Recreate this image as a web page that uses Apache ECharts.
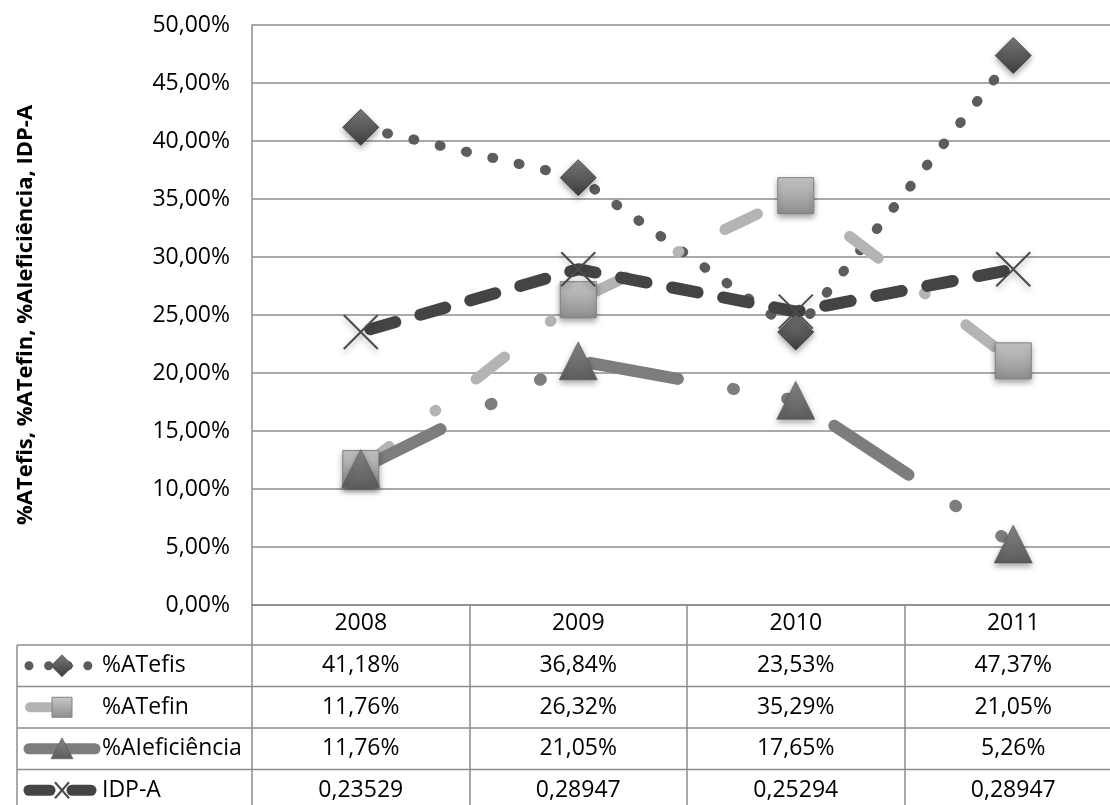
<!DOCTYPE html>
<html>
<head>
<meta charset="utf-8">
<script src="https://cdn.jsdelivr.net/npm/echarts@6/dist/echarts.min.js"></script>
<style>
  html, body { margin: 0; padding: 0; background: #fff; overflow: hidden; width: 1110px; height: 805px; }
  /* the plot and its table run a little past the right edge of the page */
  #chart { width: 1122px; height: 805px; }
</style>
</head>
<body>
<div id="chart"></div>
<script>
// ---- data ----
const years = ['2008', '2009', '2010', '2011'];
const atefis = [0.4118, 0.3684, 0.2353, 0.4737];
const atefin = [0.1176, 0.2632, 0.3529, 0.2105];
const aieficiencia = [0.1176, 0.2105, 0.1765, 0.0526];
const idpA = [0.23529, 0.28947, 0.25294, 0.28947];
const seriesNames = ['%ATefis', '%ATefin', '%AIeficiência', 'IDP-A'];
const axisTitle = '%ATefis, %ATefin, %AIeficiência, IDP-A';
const yMin = 0, yMax = 0.5, yStep = 0.05;

// ---- formatting ----
const FONT = "'Open Sans', sans-serif";
const GRID_COLOR = '#8c8c8c';
const pct = v => (v * 100).toFixed(2).replace('.', ',') + '%';
const dec = v => v.toFixed(5).replace('.', ',');

const grad = (top, bottom) => ({
  type: 'linear', x: 0, y: 0, x2: 0, y2: 1,
  colorStops: [{ offset: 0, color: top }, { offset: 1, color: bottom }]
});
const shadow = { shadowBlur: 6, shadowColor: 'rgba(0,0,0,0.35)', shadowOffsetY: 3 };
const X_PATH = 'path://M0,0L10,10M10,0L0,10';

const seriesDefs = [
  { name: seriesNames[0], data: atefis, fmt: pct,
    symbol: 'diamond', symbolSize: 36,
    line: { color: '#5c5c5c', width: 10, type: [1, 26], cap: 'round' },
    item: Object.assign({ color: grad('#7a7a7a', '#3c3c3c'), borderColor: '#3a3a3a', borderWidth: 0.8 }, shadow) },
  { name: seriesNames[1], data: atefin, fmt: pct,
    symbol: 'rect', symbolSize: 36,
    line: { color: '#b4b4b4', width: 11, type: [36, 58, 1, 51], cap: 'round' },
    item: Object.assign({ color: grad('#c8c8c8', '#8e8e8e'), borderColor: '#808080', borderWidth: 1 }, shadow) },
  { name: seriesNames[2], data: aieficiencia, fmt: pct,
    symbol: 'triangle', symbolSize: 38,
    line: { color: '#7d7d7d', width: 12, type: [89, 56, 1, 54, 1, 54], cap: 'round' },
    item: Object.assign({ color: grad('#858585', '#5c5c5c'), borderColor: '#555', borderWidth: 0.6 }, shadow) },
  { name: seriesNames[3], data: idpA, fmt: dec,
    symbol: X_PATH, symbolSize: 34,
    line: { color: '#444444', width: 12, type: [26, 26], dashOffset: 42, cap: 'round' },
    item: Object.assign({ color: 'rgba(0,0,0,0)', borderColor: '#4a4a4a', borderWidth: 2 }, shadow) }
];

const chart = echarts.init(document.getElementById('chart'), null, { renderer: 'canvas' });

chart.setOption({
  animation: false,
  backgroundColor: '#fff',
  textStyle: { fontFamily: FONT },
  grid: { left: 252, top: 25, right: 0, height: 580, outerBoundsMode: 'none' },
  xAxis: {
    type: 'category',
    data: years,
    boundaryGap: true,
    axisLine: { show: true, lineStyle: { color: GRID_COLOR, width: 1.5 } },
    axisTick: { show: true, interval: 0, length: 206, lineStyle: { color: GRID_COLOR, width: 1.5 } },
    axisLabel: { color: '#000', fontSize: 23, fontFamily: FONT, margin: 7, interval: 0 },
    splitLine: { show: false }
  },
  yAxis: {
    type: 'value',
    min: yMin, max: yMax, interval: yStep,
    name: axisTitle,
    nameLocation: 'middle',
    nameRotate: 90,
    nameGap: 215,
    nameTextStyle: { color: '#000', fontSize: 22, fontWeight: 'bold', fontFamily: FONT },
    axisLine: { show: true, lineStyle: { color: GRID_COLOR, width: 1.5 } },
    axisTick: { show: false },
    axisLabel: { color: '#000', fontSize: 23, fontFamily: FONT, margin: 22, formatter: pct },
    splitLine: { show: true, lineStyle: { color: GRID_COLOR, width: 1.5 } }
  },
  series: seriesDefs.map(s => ({
    type: 'line',
    name: s.name,
    data: s.data,
    symbol: s.symbol,
    symbolSize: s.symbolSize,
    showSymbol: true,
    clip: false,
    lineStyle: s.line,
    itemStyle: s.item,
    emphasis: { disabled: true },
    z: 2
  }))
});

// ---- data table under the plot ----
const colX = years.map(y => chart.convertToPixel({ xAxisIndex: 0 }, y));
const bandW = colX.length > 1 ? colX[1] - colX[0] : 200;
const tableTop = chart.convertToPixel({ yAxisIndex: 0 }, yMin);
const headerH = 40, rowH = 41.5;
const tableLeft = 17, tableRight = colX[colX.length - 1] + bandW / 2;
const graphics = [];

const rowTops = seriesDefs.map((s, i) => tableTop + headerH + i * rowH);
const tableBottom = tableTop + headerH + seriesDefs.length * rowH;

// horizontal rules
rowTops.concat([tableBottom]).forEach(y => {
  graphics.push({ type: 'line', shape: { x1: tableLeft, y1: y, x2: tableRight, y2: y },
    style: { stroke: GRID_COLOR, lineWidth: 1.5 }, silent: true });
});
// left border of the key column
graphics.push({ type: 'line', shape: { x1: tableLeft, y1: rowTops[0], x2: tableLeft, y2: tableBottom },
  style: { stroke: GRID_COLOR, lineWidth: 1.5 }, silent: true });

// values
seriesDefs.forEach((s, i) => {
  const cy = rowTops[i] + rowH / 2;
  s.data.forEach((v, j) => {
    graphics.push({ type: 'text', x: colX[j], y: cy,
      style: { text: s.fmt(v), fill: '#000', font: '23px ' + FONT, align: 'center', verticalAlign: 'middle' },
      silent: true });
  });
  graphics.push({ type: 'text', x: 102, y: cy,
    style: { text: s.name, fill: '#000', font: '23px ' + FONT, align: 'left', verticalAlign: 'middle' },
    silent: true, z: 10 });
});

// legend keys
function key(i) {
  const cy = rowTops[i] + rowH / 2;
  const s = seriesDefs[i];
  const mx = 62;
  const out = [];
  const lineEl = (x1, x2, w, dash) => ({ type: 'line', shape: { x1, y1: cy, x2, y2: cy },
    style: { stroke: s.line.color, lineWidth: w, lineCap: 'round', lineDash: dash || null }, silent: true, z: 5 });
  const fill = s.item.color;
  if (i === 0) {
    out.push(lineEl(29, 88, 9, [0.01, 19.6]));
    out.push({ type: 'polygon', shape: { points: [[mx, cy - 11], [mx + 11, cy], [mx, cy + 11], [mx - 11, cy]] },
      style: { fill, stroke: '#3a3a3a', lineWidth: 0.6 }, silent: true, z: 6 });
  } else if (i === 1) {
    out.push(lineEl(30, 50, 10));
    out.push({ type: 'rect', shape: { x: mx - 10, y: cy - 10, width: 20, height: 20 },
      style: { fill, stroke: '#808080', lineWidth: 1 }, silent: true, z: 6 });
  } else if (i === 2) {
    out.push(lineEl(29, 95, 11));
    out.push({ type: 'polygon', shape: { points: [[mx, cy - 11], [mx + 11, cy + 10], [mx - 11, cy + 10]] },
      style: { fill, stroke: '#555', lineWidth: 0.6 }, silent: true, z: 6 });
  } else {
    out.push(lineEl(29, 50, 11));
    out.push(lineEl(72, 91, 11));
    out.push({ type: 'polyline', shape: { points: [[mx - 7, cy - 8], [mx + 7, cy + 8]] },
      style: { stroke: '#4a4a4a', lineWidth: 2, fill: null }, silent: true, z: 6 });
    out.push({ type: 'polyline', shape: { points: [[mx + 7, cy - 8], [mx - 7, cy + 8]] },
      style: { stroke: '#4a4a4a', lineWidth: 2, fill: null }, silent: true, z: 6 });
  }
  return out;
}
seriesDefs.forEach((s, i) => key(i).forEach(g => graphics.push(g)));

chart.setOption({ graphic: { elements: graphics } });
</script>
</body>
</html>
